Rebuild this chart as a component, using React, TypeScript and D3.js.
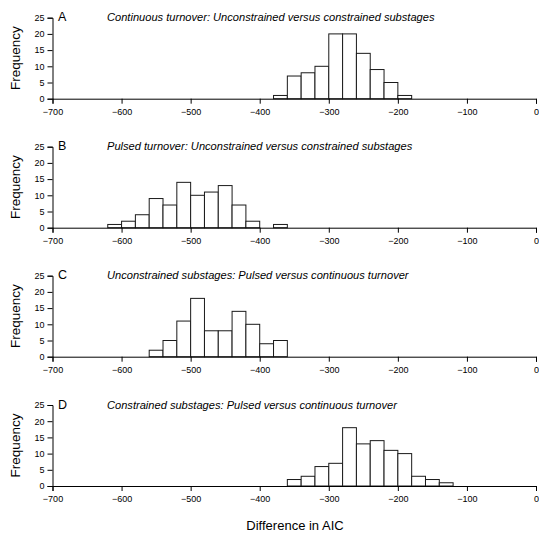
import React, { useRef, useEffect } from 'react';
import * as d3 from 'd3';

// bin left edges step 20, heights
const binWidth = 20;

const panelLetters = ['A', 'B', 'C', 'D'];
const panelTitles = [
  'Continuous turnover: Unconstrained versus constrained substages',
  'Pulsed turnover: Unconstrained versus constrained substages',
  'Unconstrained substages: Pulsed versus continuous turnover',
  'Constrained substages: Pulsed versus continuous turnover',
];
const panelStarts = [-380, -620, -560, -360];

const countsA = [1, 7, 8, 10, 20, 20, 14, 9, 5, 1];
const countsB = [1, 2, 4, 9, 7, 14, 10, 11, 13, 7, 2, 0, 1];
const countsC = [2, 5, 11, 18, 8, 8, 14, 10, 4, 5];
const countsD = [2, 3, 6, 7, 18, 13, 14, 11, 10, 3, 2, 1];
const panelCounts = [countsA, countsB, countsC, countsD];

const xTicks = [-700, -600, -500, -400, -300, -200, -100, 0];
const yTicks = [0, 5, 10, 15, 20, 25];

const FONT = 'Liberation Sans, Arial, Helvetica, sans-serif';

function App() {
  const canvas = useRef(null);

  useEffect(() => {
    const W = 539, H = 542;
    d3.select(canvas.current).select('svg').remove();
    const svg = d3.select(canvas.current)
      .append('svg')
      .attr('width', W)
      .attr('height', H)
      .style('position', 'absolute')
      .style('left', '0px')
      .style('top', '0px')
      .style('font-family', FONT);

    const x = d3.scaleLinear().domain([-700, 0]).range([52.5, 536]);
    const baseY = [98.7, 227.7, 356.7, 486];
    const plotH = 81;

    panelCounts.forEach((counts, i) => {
      const y = d3.scaleLinear().domain([0, 25]).range([baseY[i], baseY[i] - plotH]);
      const g = svg.append('g');

      const bins = counts.map((c, j) => ({ x0: panelStarts[i] + j * binWidth, n: c }));

      g.selectAll('rect.bar')
        .data(bins.filter((d) => d.n > 0))
        .enter()
        .append('rect')
        .attr('class', 'bar')
        .attr('x', (d) => x(d.x0))
        .attr('y', (d) => y(d.n))
        .attr('width', (d) => x(d.x0 + binWidth) - x(d.x0))
        .attr('height', (d) => y(0) - y(d.n))
        .attr('fill', 'white')
        .attr('stroke', '#1a1a1a')
        .attr('stroke-width', 1);

      // x axis
      const xa = g.append('g')
        .attr('transform', `translate(0,${y(0)})`)
        .call(d3.axisBottom(x).tickValues(xTicks).tickSize(5).tickPadding(5)
          .tickFormat((d) => (d < 0 ? '\u2212' + Math.abs(d) : String(d))));
      xa.select('.domain').attr('stroke', '#000');
      xa.selectAll('text').style('font-size', '9px').style('font-family', FONT).attr('fill', '#000');

      // y axis
      const ya = g.append('g')
        .attr('transform', `translate(${x(-700)},0)`)
        .call(d3.axisLeft(y).tickValues(yTicks).tickSize(5).tickPadding(3));
      ya.select('.domain').attr('stroke', '#000');
      ya.selectAll('text').style('font-size', '9px').style('font-family', FONT).attr('fill', '#000');

      g.append('text')
        .attr('x', 58)
        .attr('y', y(25) + 3.5)
        .style('font-size', '12.5px')
        .text(panelLetters[i]);

      g.append('text')
        .attr('x', 107)
        .attr('y', y(25) + 3.5)
        .style('font-size', '11.1px')
        .style('font-style', 'italic')
        .text(panelTitles[i]);

      g.append('text')
        .attr('transform', `translate(20,${(y(0) + y(25)) / 2}) rotate(-90)`)
        .attr('text-anchor', 'middle')
        .style('font-size', '13.5px')
        .text('Frequency');
    });

    svg.append('text')
      .attr('x', 295)
      .attr('y', 530)
      .attr('text-anchor', 'middle')
      .style('font-size', '13px')
      .text('Difference in AIC');
  }, []);

  return <div ref={canvas}></div>;
}

export default App;
